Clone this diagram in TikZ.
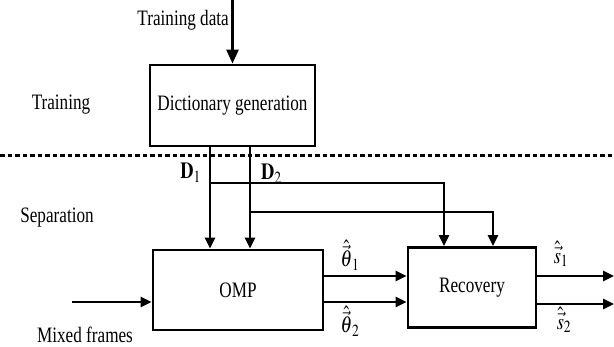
\documentclass[tikz,border=0pt]{standalone}
\usepackage{mathptmx}
\usepackage{fontspec}
\setmainfont{Liberation Serif}[FakeStretch=0.78]
\usetikzlibrary{arrows.meta}

\tikzset{
  blockbox/.style={draw, line width=2.8pt, minimum width=#1, inner sep=0pt},
  conn/.style={line width=2.6pt, -{Triangle[length=11pt,width=10pt]}},
  lbl/.style={inner sep=0pt, font=\fontsize{22}{26}\selectfont},
  mlbl/.style={inner sep=0pt, font=\fontsize{23}{27}\selectfont},
}
\newcommand{\narrow}[1]{\scalebox{0.8}[1]{#1}}

\begin{document}
\begin{tikzpicture}[x=1pt, y=-1pt]
  \useasboundingbox (0,0) rectangle (614,347);

  % processing blocks
  \node[blockbox=165pt, minimum height=81pt, lbl] (dict) at (232.5,105.5) {Dictionary generation};
  \node[blockbox=170pt, minimum height=80pt, lbl] (omp) at (238,290) {OMP};
  \node[blockbox=128pt, minimum height=80pt, lbl] (rec) at (472,287.5) {Recovery};

  % stage labels
  \node[lbl, anchor=east] (tdata) at (229,20) {Training data};
  \node[lbl] (train) at (61,105) {Training};
  \node[lbl] (sep) at (57,218) {Separation};
  \node[lbl] (mixed) at (85,335) {Mixed frames};

  % boundary between training and separation
  \coordinate (dl) at (0,156);
  \coordinate (dr) at (614,156);
  \draw[line width=3pt, dash pattern=on 4.5pt off 3pt] (dl) -- (dr);

  % training data into dictionary generation
  \coordinate (tin) at (232.5,0);
  \draw[line width=2.6pt, -{Triangle[length=14pt,width=12pt]}] (tin) -- (dict.north);

  % dictionaries D1 and D2
  \coordinate (b1) at (210,183);
  \coordinate (b2) at (250,212);
  \coordinate (r1) at (444,0);
  \coordinate (r2) at (493,0);
  \draw[conn] (dict.south -| b1) -- (omp.north -| b1);
  \draw[conn] (dict.south -| b2) -- (omp.north -| b2);
  \draw[conn] (b1) -| (rec.north -| r1);
  \draw[conn] (b2) -| (rec.north -| r2);
  \node[mlbl, anchor=east] (d1) at (201,173) {\narrow{$\mathbf{D}_1$}};
  \node[mlbl, anchor=west] (d2) at (261,174) {\narrow{$\mathbf{D}_2$}};

  % mixed frames into OMP
  \coordinate (in) at (72,302);
  \draw[conn] (in) -- (omp.west |- in);

  % coefficient vectors
  \coordinate (t1) at (0,276);
  \coordinate (t2) at (0,302);
  \draw[conn] (omp.east |- t1) -- (rec.west |- t1);
  \draw[conn] (omp.east |- t2) -- (rec.west |- t2);
  \node[mlbl] (th1) at (350,255) {\narrow{$\hat{\vec{\theta}}_1$}};
  \node[mlbl] (th2) at (350,321) {\narrow{$\hat{\vec{\theta}}_2$}};

  % recovered sources
  \coordinate (o1) at (614,276);
  \coordinate (o2) at (614,304);
  \draw[conn] (rec.east |- o1) -- (o1);
  \draw[conn] (rec.east |- o2) -- (o2);
  \node[mlbl] (s1) at (561,254) {\narrow{$\hat{\vec{s}}_1$}};
  \node[mlbl] (s2) at (564,320) {\narrow{$\hat{\vec{s}}_2$}};
\end{tikzpicture}
\end{document}
